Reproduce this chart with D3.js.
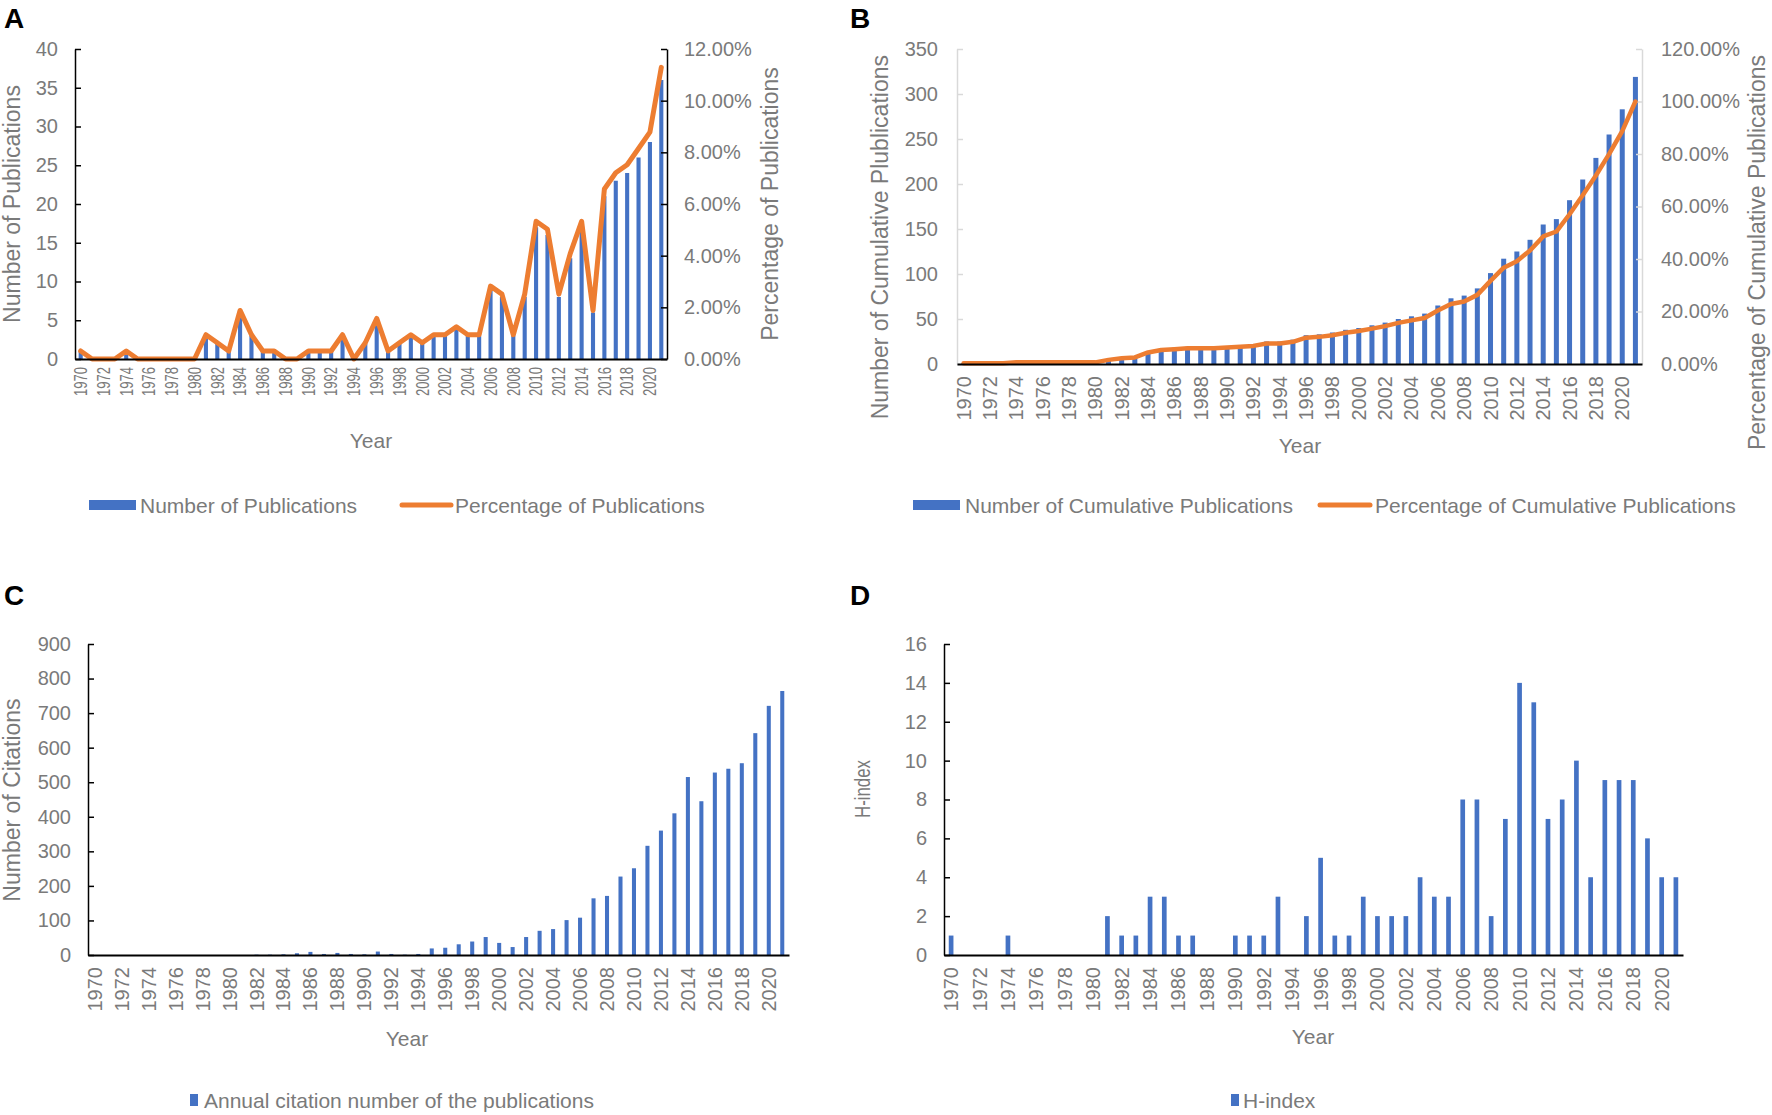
<!DOCTYPE html>
<html>
<head>
<meta charset="utf-8">
<script src="https://cdn.jsdelivr.net/npm/d3@7"></script>
<style>
  html, body { margin: 0; padding: 0; background: #ffffff; }
  svg { display: block; }
</style>
</head>
<body>
<svg id="chart" width="1772" height="1115"></svg>
<script>
// ---------------- DATA ----------------
const years = ["1970","1971","1972","1973","1974","1975","1976","1977","1978","1979",
  "1980","1981","1982","1983","1984","1985","1986","1987","1988","1989",
  "1990","1991","1992","1993","1994","1995","1996","1997","1998","1999",
  "2000","2001","2002","2003","2004","2005","2006","2007","2008","2009",
  "2010","2011","2012","2013","2014","2015","2016","2017","2018","2019",
  "2020","2021"];

const publications = [1,0,0,0,1,0,0,0,0,0,
  0,3,2,1,6,3,1,1,0,0,
  1,1,1,3,0,2,5,1,2,3,
  2,3,3,4,3,3,9,8,3,8,
  17,16,8,13,17,6,21,23,24,26,
  28,36];

const publicationPct = [0.31,0,0,0,0.31,0,0,0,0,0,
  0,0.94,0.63,0.31,1.88,0.94,0.31,0.31,0,0,
  0.31,0.31,0.31,0.94,0,0.63,1.57,0.31,0.63,0.94,
  0.63,0.94,0.94,1.25,0.94,0.94,2.82,2.51,0.94,2.51,
  5.33,5.02,2.51,4.08,5.33,1.88,6.58,7.21,7.52,8.15,
  8.78,11.29];

const cumulative = [1,1,1,1,2,2,2,2,2,2,
  2,5,7,8,14,17,18,19,19,19,
  20,21,22,25,25,27,32,33,35,38,
  40,43,46,50,53,56,65,73,76,84,
  101,117,125,138,155,161,182,205,229,255,
  283,319];

const cumulativePct = [0.31,0.31,0.31,0.31,0.63,0.63,0.63,0.63,0.63,0.63,
  0.63,1.57,2.19,2.51,4.39,5.33,5.64,5.96,5.96,5.96,
  6.27,6.58,6.90,7.84,7.84,8.46,10.03,10.34,10.97,11.91,
  12.54,13.48,14.42,15.67,16.61,17.55,20.38,22.88,23.82,26.33,
  31.66,36.68,39.18,43.26,48.59,50.47,57.05,64.26,71.79,79.94,
  88.71,100.00];

const citations = [0,0,0,0,0,0,0,0,0,0,
  0,0,1,1,2,5,9,3,6,3,
  2,10,3,1,3,19,21,31,39,52,
  35,23,52,70,75,101,108,164,171,227,
  251,316,360,410,515,445,528,539,555,642,
  721,764];

const hIndex = [1,0,0,0,1,0,0,0,0,0,
  0,2,1,1,3,3,1,1,0,0,
  1,1,1,3,0,2,5,1,1,3,
  2,2,2,4,3,3,8,8,2,7,
  14,13,7,8,10,4,9,9,9,6,
  4,4];

// tick labels
const yearTickLabels = ["1970","1972","1974","1976","1978","1980","1982","1984","1986","1988",
  "1990","1992","1994","1996","1998","2000","2002","2004","2006","2008",
  "2010","2012","2014","2016","2018","2020"];
const ticksA = [0,5,10,15,20,25,30,35,40];
const pctTicksA = [0,2,4,6,8,10,12];
const ticksB = [0,50,100,150,200,250,300,350];
const pctTicksB = [0,20,40,60,80,100,120];
const ticksC = [0,100,200,300,400,500,600,700,800,900];
const ticksD = [0,2,4,6,8,10,12,14,16];

// ---------------- STYLE ----------------
const FONT = "'Liberation Sans', Arial, 'Noto Sans', sans-serif";
const GRAY = "#7a7a7a";
const BLUE = "#4472C4";
const ORANGE = "#ED7D31";

const svg = d3.select("#chart");

function panel(cfg) {
  const g = svg.append("g");
  const x = d3.scaleBand().domain(years).range([cfg.x0, cfg.x1])
    .paddingInner(cfg.pad).paddingOuter(cfg.pad / 2);
  const y = d3.scaleLinear().domain([0, cfg.yMax]).range([cfg.yBot, cfg.yTop]);

  // bars
  g.append("g").selectAll("rect").data(cfg.values).join("rect")
    .attr("x", (d, i) => x(years[i]))
    .attr("y", d => y(d))
    .attr("width", x.bandwidth())
    .attr("height", d => cfg.yBot - y(d))
    .attr("fill", BLUE);

  // left axis
  const la = g.append("g").attr("transform", `translate(${cfg.x0},0)`)
    .call(d3.axisLeft(y).tickValues(cfg.yTicks).tickSizeInner(-6).tickSizeOuter(0).tickPadding(cfg.tickPad));
  la.selectAll("path,line").attr("stroke", cfg.axisColor).attr("stroke-width", 1.5);
  la.selectAll("text").attr("fill", GRAY).attr("font-size", cfg.tickFont).attr("font-family", FONT);

  // right axis + line
  if (cfg.pct) {
    const yr = d3.scaleLinear().domain([0, cfg.rMax]).range([cfg.yBot, cfg.yTop]);
    const ra = g.append("g").attr("transform", `translate(${cfg.x1},0)`)
      .call(d3.axisRight(yr).tickValues(cfg.rTicks).tickSizeInner(-6).tickSizeOuter(0).tickPadding(cfg.tickPad)
        .tickFormat(d => d3.format(".2f")(d) + "%"));
    ra.selectAll("path,line").attr("stroke", cfg.axisColor).attr("stroke-width", 1.5);
    ra.selectAll("text").attr("fill", GRAY).attr("font-size", cfg.tickFont).attr("font-family", FONT);

    const line = d3.line()
      .x((d, i) => x(years[i]) + x.bandwidth() / 2)
      .y(d => yr(d));
    g.append("path").datum(cfg.pct)
      .attr("d", line).attr("fill", "none").attr("stroke", ORANGE)
      .attr("stroke-width", cfg.lineW).attr("stroke-linejoin", "round").attr("stroke-linecap", "round");
  }

  // bottom axis
  const ba = g.append("g").attr("transform", `translate(0,${cfg.yBot})`)
    .call(d3.axisBottom(x).tickValues(yearTickLabels).tickSize(0));
  ba.select(".domain").attr("stroke", "#000").attr("stroke-width", 2);
  const xl = ba.selectAll("text")
    .attr("transform", "rotate(-90)")
    .attr("x", -cfg.xGap).attr("y", 0).attr("dy", "0.35em")
    .attr("text-anchor", "end")
    .attr("fill", GRAY).attr("font-size", cfg.xFont).attr("font-family", FONT);
  if (cfg.xLen) xl.attr("textLength", cfg.xLen).attr("lengthAdjust", "spacingAndGlyphs");

  // titles
  const t = (spec, rot) => {
    const el = g.append("text")
      .attr("transform", `translate(${spec.x},${spec.y})` + (rot ? " rotate(-90)" : ""))
      .attr("text-anchor", spec.anchor || "middle").attr("dominant-baseline", "central")
      .attr("fill", GRAY).attr("font-size", spec.size).attr("font-family", FONT).text(spec.text);
    if (spec.len) el.attr("textLength", spec.len).attr("lengthAdjust", "spacingAndGlyphs");
  };
  t(cfg.leftTitle, true);
  if (cfg.rightTitle) t(cfg.rightTitle, true);
  t({text: "Year", x: cfg.yearPos[0], y: cfg.yearPos[1], size: 21}, false);

  // panel letter
  g.append("text").attr("x", cfg.letter[1]).attr("y", cfg.letter[2])
    .attr("font-size", 28).attr("font-weight", "bold").attr("font-family", FONT)
    .attr("fill", "#000").text(cfg.letter[0]);

  // legend
  cfg.legend.forEach(item => {
    if (item.type === "rect") {
      g.append("rect").attr("x", item.x).attr("y", item.y - item.h / 2)
        .attr("width", item.w).attr("height", item.h).attr("fill", BLUE);
    } else {
      g.append("line").attr("x1", item.x).attr("x2", item.x + item.w)
        .attr("y1", item.y).attr("y2", item.y)
        .attr("stroke", ORANGE).attr("stroke-width", 5).attr("stroke-linecap", "round");
    }
    g.append("text").attr("x", item.tx).attr("y", item.y)
      .attr("dominant-baseline", "central").attr("fill", GRAY)
      .attr("font-size", 21).attr("font-family", FONT).text(item.label);
  });
}

panel({
  x0: 75, x1: 667, yTop: 49, yBot: 359, pad: 0.64,
  values: publications, yMax: 40, yTicks: ticksA,
  pct: publicationPct, rMax: 12, rTicks: pctTicksA, lineW: 5,
  axisColor: "#000", tickFont: 20, tickPad: 17, xFont: 18, xLen: 29, xGap: 8,
  leftTitle: {text: "Number of Publications", x: 12, y: 204, size: 23},
  rightTitle: {text: "Percentage of Publications", x: 770, y: 204, size: 23},
  yearPos: [371, 440], letter: ["A", 4, 28],
  legend: [
    {type: "rect", x: 89, y: 505, w: 47, h: 10, tx: 140, label: "Number of Publications"},
    {type: "line", x: 402, y: 505, w: 49, tx: 455, label: "Percentage of Publications"}
  ]
});

panel({
  x0: 957, x1: 1642, yTop: 49, yBot: 364, pad: 0.62,
  values: cumulative, yMax: 350, yTicks: ticksB,
  pct: cumulativePct, rMax: 120, rTicks: pctTicksB, lineW: 4.5,
  axisColor: "#d9d9d9", tickFont: 20, tickPad: 19, xFont: 20, xGap: 12,
  leftTitle: {text: "Number of Cumulative Plublications", x: 880, y: 55, size: 23, anchor: "end"},
  rightTitle: {text: "Percentage of Cumulative Publications", x: 1757, y: 55, size: 23, anchor: "end"},
  yearPos: [1300, 445], letter: ["B", 850, 28],
  legend: [
    {type: "rect", x: 913, y: 505, w: 47, h: 10, tx: 965, label: "Number of Cumulative Publications"},
    {type: "line", x: 1320, y: 505, w: 50, tx: 1375, label: "Percentage of Cumulative Publications"}
  ]
});

panel({
  x0: 88, x1: 789, yTop: 644, yBot: 955, pad: 0.7,
  values: citations, yMax: 900, yTicks: ticksC,
  axisColor: "#000", tickFont: 20, tickPad: 17, xFont: 20, xGap: 12,
  leftTitle: {text: "Number of Citations", x: 12, y: 800, size: 23},
  yearPos: [407, 1038], letter: ["C", 4, 605],
  legend: [
    {type: "rect", x: 190, y: 1100, w: 8, h: 12, tx: 204, label: "Annual citation number of the publications"}
  ]
});

panel({
  x0: 944, x1: 1683, yTop: 644, yBot: 955, pad: 0.67,
  values: hIndex, yMax: 16, yTicks: ticksD,
  axisColor: "#000", tickFont: 20, tickPad: 17, xFont: 20, xGap: 12,
  leftTitle: {text: "H-index", x: 862, y: 789, size: 22, len: 58},
  yearPos: [1313, 1036], letter: ["D", 850, 605],
  legend: [
    {type: "rect", x: 1231, y: 1100, w: 8, h: 12, tx: 1243, label: "H-index"}
  ]
});
</script>
</body>
</html>
